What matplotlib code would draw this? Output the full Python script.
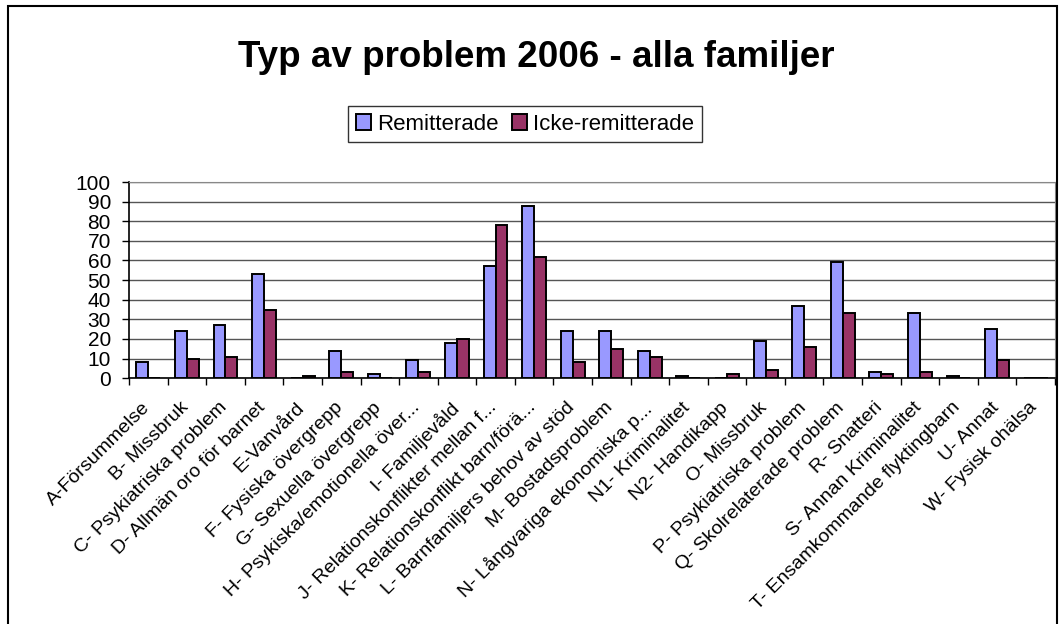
import numpy as np
import matplotlib.pyplot as plt
from matplotlib.patches import Rectangle
from matplotlib.transforms import ScaledTranslation

plt.rcParams['font.family'] = ['Liberation Sans', 'DejaVu Sans']

# Data
kategorier = [
    "A-Försummelse", "B- Missbruk", "C- Psykiatriska problem",
    "D- Allmän oro för barnet", "E-Vanvård", "F- Fysiska övergrepp",
    "G- Sexuella övergrepp", "H- Psykiska/emotionella över...",
    "I- Familjevåld", "J- Relationskonflikter mellan f...",
    "K- Relationskonflikt barn/förä...", "L- Barnfamiljers behov av stöd",
    "M- Bostadsproblem", "N- Långvariga ekonomiska p...", "N1- Kriminalitet",
    "N2- Handikapp", "O- Missbruk", "P- Psykiatriska problem",
    "Q- Skolrelaterade problem", "R- Snatteri", "S- Annan Kriminalitet",
    "T- Ensamkommande flyktingbarn", "U- Annat", "W- Fysisk ohälsa",
]
remitterade = [8, 24, 27, 53, 0, 14, 2, 9, 18, 57, 88, 24,
               24, 14, 1, 0, 19, 37, 59, 3, 33, 1, 25, 0]
icke_remitterade = [0, 10, 11, 35, 1, 3, 0, 3, 20, 78, 62, 8,
                    15, 11, 0, 2, 4, 16, 33, 2, 3, 0, 9, 0]

fig = plt.figure(figsize=(10.61, 6.24), dpi=100)
ax = fig.add_axes([0.1216, 0.394, 0.8727, 0.3143])

x = np.arange(len(kategorier))
w = 0.31
ax.bar(x - w / 2, remitterade, w, color='#9999FF', edgecolor='black',
       linewidth=1.4, label='Remitterade', zorder=3)
ax.bar(x + w / 2, icke_remitterade, w, color='#993366', edgecolor='black',
       linewidth=1.4, label='Icke-remitterade', zorder=3)

ax.set_xlim(-0.5, len(kategorier) - 0.5)
ax.set_ylim(0, 100)
ax.set_yticks(np.arange(0, 101, 10))
ax.yaxis.grid(True, color='#555555', linewidth=1.0, zorder=0)
ax.tick_params(axis='y', labelsize=15, length=5, width=1, direction='out', pad=8)

# Kategorietiketter, ticks mellan grupperna
ax.set_xticks(x)
ax.set_xticklabels(kategorier, rotation=45, ha='right', rotation_mode='anchor',
                   fontsize=14)
ax.tick_params(axis='x', length=0, pad=15)
forskj = ScaledTranslation(-0.07, 0, fig.dpi_scale_trans)
for t in ax.get_xticklabels():
    t.set_transform(t.get_transform() + forskj)
ax.set_xticks(np.arange(-0.5, len(kategorier), 1), minor=True)
ax.tick_params(axis='x', which='minor', length=5, width=1, direction='out')

ax.spines['top'].set_color('#888888')
ax.spines['right'].set_color('#888888')
ax.spines['left'].set_linewidth(1.2)
ax.spines['bottom'].set_linewidth(1.2)

fig.text(0.505, 1 - 67 / 624, "Typ av problem 2006 - alla familjer", ha='center',
         va='baseline', fontsize=26.5, fontweight='bold')

leg = fig.legend(loc='center', bbox_to_anchor=(0.4948, 0.801), ncol=2,
                 fontsize=16, frameon=True, fancybox=False, shadow=False,
                 handlelength=0.68, handleheight=0.68, handletextpad=0.27,
                 columnspacing=0.63, borderpad=0.35)
leg.get_frame().set_edgecolor('black')
leg.get_frame().set_linewidth(1.0)

# Ram runt diagrammet
fig.patches.append(Rectangle((0.0075, -0.05), 0.989, 1.04, transform=fig.transFigure,
                             fill=False, edgecolor='black', linewidth=1.5))

fig.savefig('out.png', dpi=100)
